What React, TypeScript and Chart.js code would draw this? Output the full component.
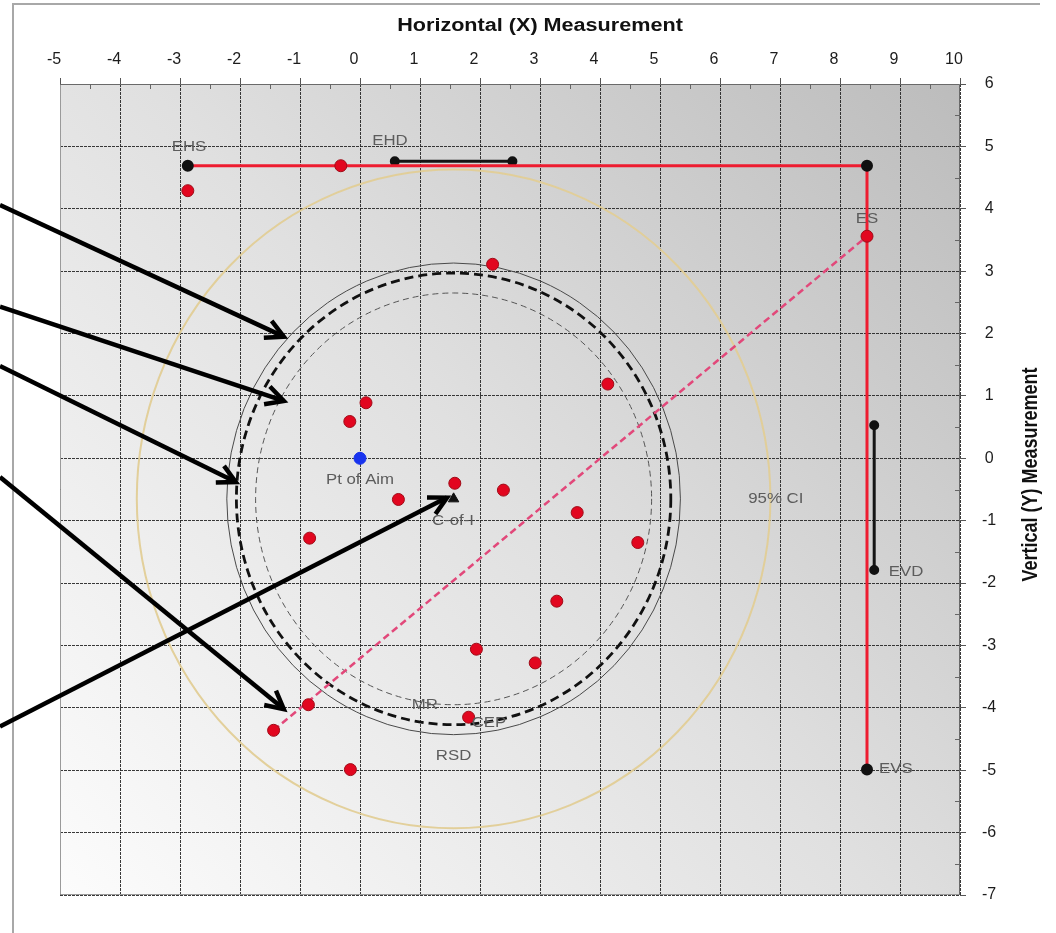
import React, { useEffect, useRef } from "react";
import { Chart, registerables } from "chart.js";

Chart.register(...registerables);

// ---------------- axes ----------------
const X_MIN = -5;
const X_MAX = 10;
const Y_MIN = -7;
const Y_MAX = 6;
const TICK_STEP = 1;
const X_TITLE = "Horizontal (X) Measurement";
const Y_TITLE = "Vertical (Y) Measurement";

// ---------------- shots ----------------
const shotX = [-2.87, -0.32, 2.21, 8.45, 4.13, 0.1, -0.17, 1.58, 2.39, 0.64, 3.62, 4.63, -0.84, 3.28, 1.94, 2.92, -0.86, -1.44, 1.81, -0.16];
const shotY = [4.29, 4.69, 3.11, 3.56, 1.19, 0.89, 0.59, -0.4, -0.51, -0.66, -0.87, -1.35, -1.28, -2.29, -3.06, -3.28, -3.95, -4.36, -4.15, -4.99];

// point of aim and centre of impact
const aimX = [0];
const aimY = [0];
const coiX = [1.56];
const coiY = [-0.65];

// extreme lines
const ehsEvsX = [-2.87, 8.45, 8.45];
const ehsEvsY = [4.69, 4.69, -4.99];
const ehdX = [0.58, 2.54];
const ehdY = [4.76, 4.76];
const evdX = [8.57, 8.57];
const evdY = [0.53, -1.79];
const esX = [-1.44, 8.45];
const esY = [-4.36, 3.56];

// circles around the centre of impact
const circleNames = ["RSD", "CEP", "MR", "95% CI"];
const circleRadii = [3.78, 3.62, 3.3, 5.28];

// text annotations (data coordinates)
const labelTexts = ["EHS", "EHD", "ES", "EVD", "EVS", "Pt of Aim", "C-of-I", "MR", "CEP", "RSD", "95% CI"];
const labelX = [-2.85, 0.5, 8.45, 9.1, 8.93, 0, 1.55, 1.08, 2.15, 1.56, 6.93];
const labelY = [4.99, 5.08, 3.84, -1.83, -4.98, -0.35, -1.0, -3.95, -4.25, -4.78, -0.65];

// pointer arrows (data coordinates, starting left of the plot)
const arrowFromX = [-6, -6, -6, -6, -6];
const arrowFromY = [4.06, 2.43, 1.48, -0.3, -4.3];
const arrowToX = [-1.27, -1.27, -2.07, -1.27, 1.45];
const arrowToY = [1.95, 0.92, -0.38, -4.02, -0.63];

// ---------------- styles ----------------
const FONT = '"Liberation Sans", Arial, sans-serif';
const STRETCH = 1.2;
const circleStyles = [
  { color: "#4a4a4a", width: 1, dash: [] as number[] },
  { color: "#111111", width: 2.8, dash: [9, 5] },
  { color: "#555555", width: 1, dash: [6, 4] },
  { color: "rgba(225,205,150,0.95)", width: 2, dash: [] as number[] },
];

const pts = (xs: number[], ys: number[]) => xs.map((x, i) => ({ x, y: ys[i] }));

function stretchedText(ctx: any, text: string, x: number, y: number, font: string, color: string, rotate = 0) {
  ctx.save();
  ctx.translate(x, y);
  if (rotate) {
    ctx.rotate(rotate);
    ctx.scale(1, STRETCH);
  } else {
    ctx.scale(STRETCH, 1);
  }
  ctx.font = font;
  ctx.fillStyle = color;
  ctx.textAlign = "center";
  ctx.textBaseline = "middle";
  ctx.fillText(text, 0, 0);
  ctx.restore();
}

const decorPlugin = {
  id: "decor",
  beforeDraw(chart: any) {
    const { ctx, chartArea: a } = chart;
    ctx.save();
    ctx.fillStyle = "#ffffff";
    ctx.fillRect(0, 0, chart.width, chart.height);
    // outer frame
    ctx.strokeStyle = "#a8a8a8";
    ctx.lineWidth = 2;
    ctx.beginPath();
    ctx.moveTo(13, chart.height);
    ctx.lineTo(13, 4);
    ctx.lineTo(1040, 4);
    ctx.stroke();
    // plot background gradient
    const g = ctx.createLinearGradient(a.left, a.bottom, a.right, a.top);
    g.addColorStop(0, "#fcfcfc");
    g.addColorStop(0.5, "#e0e0e0");
    g.addColorStop(1, "#bcbcbc");
    ctx.fillStyle = g;
    ctx.fillRect(a.left, a.top, a.right - a.left, a.bottom - a.top);
    ctx.restore();
  },
  beforeDatasetsDraw(chart: any) {
    const { ctx, chartArea: a, scales } = chart;
    const xs = scales.x;
    const ys = scales.y;
    ctx.save();
    // plot frame
    ctx.lineWidth = 1;
    ctx.strokeStyle = "#9a9a9a";
    ctx.beginPath();
    ctx.moveTo(a.left + 0.5, a.top);
    ctx.lineTo(a.left + 0.5, a.bottom - 0.5);
    ctx.lineTo(a.right, a.bottom - 0.5);
    ctx.stroke();
    ctx.strokeStyle = "#6a6a6a";
    ctx.beginPath();
    ctx.moveTo(a.left, a.top + 0.5);
    ctx.lineTo(a.right - 0.5, a.top + 0.5);
    ctx.lineTo(a.right - 0.5, a.bottom);
    ctx.stroke();
    // minor ticks (inward) between major ticks
    ctx.strokeStyle = "#666";
    const xt = xs.ticks;
    for (let i = 0; i < xt.length - 1; i++) {
      const p = Math.round(xs.getPixelForValue((xt[i].value + xt[i + 1].value) / 2)) + 0.5;
      ctx.beginPath();
      ctx.moveTo(p, a.top);
      ctx.lineTo(p, a.top + 5);
      ctx.stroke();
    }
    const yt = ys.ticks;
    for (let i = 0; i < yt.length - 1; i++) {
      const p = Math.round(ys.getPixelForValue((yt[i].value + yt[i + 1].value) / 2)) + 0.5;
      ctx.beginPath();
      ctx.moveTo(a.right - 5, p);
      ctx.lineTo(a.right, p);
      ctx.stroke();
    }
    // circles around centre of impact
    ctx.beginPath();
    ctx.rect(a.left, a.top, a.right - a.left, a.bottom - a.top);
    ctx.clip();
    const cx = xs.getPixelForValue(coiX[0]);
    const cy = ys.getPixelForValue(coiY[0]);
    circleRadii.forEach((r, i) => {
      const rx = xs.getPixelForValue(coiX[0] + r) - cx;
      const ry = cy - ys.getPixelForValue(coiY[0] + r);
      const st = circleStyles[i];
      ctx.strokeStyle = st.color;
      ctx.lineWidth = st.width;
      ctx.setLineDash(st.dash);
      ctx.beginPath();
      ctx.ellipse(cx, cy, rx, ry, 0, 0, Math.PI * 2);
      ctx.stroke();
    });
    ctx.restore();
  },
  afterDatasetsDraw(chart: any) {
    const { ctx, scales } = chart;
    labelTexts.forEach((t, i) => {
      stretchedText(
        ctx,
        t,
        scales.x.getPixelForValue(labelX[i]),
        scales.y.getPixelForValue(labelY[i]),
        `14px ${FONT}`,
        "#5c5c5c"
      );
    });
  },
  afterDraw(chart: any) {
    const { ctx, scales, chartArea: a } = chart;
    // axis titles
    stretchedText(ctx, X_TITLE, 540, 26, `bold 18px ${FONT}`, "#111");
    stretchedText(ctx, Y_TITLE, 1031, (a.top + a.bottom) / 2 - 15, `bold 18px ${FONT}`, "#111", -Math.PI / 2);
    // arrows
    ctx.save();
    ctx.strokeStyle = "#000";
    ctx.lineWidth = 4.5;
    ctx.lineJoin = "miter";
    ctx.lineCap = "butt";
    arrowFromX.forEach((fx, i) => {
      const x1 = scales.x.getPixelForValue(fx);
      const y1 = scales.y.getPixelForValue(arrowFromY[i]);
      const x2 = scales.x.getPixelForValue(arrowToX[i]);
      const y2 = scales.y.getPixelForValue(arrowToY[i]);
      const ang = Math.atan2(y2 - y1, x2 - x1);
      const head = 20;
      const spread = Math.PI / 6.5;
      ctx.beginPath();
      ctx.moveTo(x1, y1);
      ctx.lineTo(x2, y2);
      ctx.stroke();
      ctx.beginPath();
      ctx.moveTo(x2 - head * Math.cos(ang - spread), y2 - head * Math.sin(ang - spread));
      ctx.lineTo(x2, y2);
      ctx.lineTo(x2 - head * Math.cos(ang + spread), y2 - head * Math.sin(ang + spread));
      ctx.stroke();
    });
    ctx.restore();
  },
};

export default function App() {
  const ref = useRef<HTMLCanvasElement | null>(null);

  useEffect(() => {
    if (!ref.current) return;
    const gridCommon = {
      color: "rgba(35,35,35,0.9)",
      lineWidth: 1,
      drawTicks: true,
      tickLength: 6,
      tickColor: "#555",
      tickWidth: 1,
    };
    const chart = new Chart(ref.current, {
      type: "scatter",
      data: {
        datasets: [
          {
            label: "Shots",
            data: pts(shotX, shotY),
            pointRadius: 6,
            pointBackgroundColor: "#e2061f",
            pointBorderColor: "#a00c18",
            pointBorderWidth: 1,
            showLine: false,
          },
          {
            label: "Pt of Aim",
            data: pts(aimX, aimY),
            pointRadius: 6,
            pointBackgroundColor: "#1833ee",
            pointBorderColor: "#1833ee",
            showLine: false,
          },
          {
            label: "C-of-I",
            data: pts(coiX, coiY),
            pointStyle: "triangle",
            pointRadius: 6,
            pointBackgroundColor: "#111",
            pointBorderColor: "#111",
            showLine: false,
          },
          {
            label: "EHS-EVS",
            data: pts(ehsEvsX, ehsEvsY),
            showLine: true,
            borderColor: "#ee1c30",
            borderWidth: 3,
            pointRadius: 4.5,
            pointBackgroundColor: "#111",
            pointBorderColor: "#111",
          },
          {
            label: "EHD",
            data: pts(ehdX, ehdY),
            showLine: true,
            borderColor: "#151515",
            borderWidth: 3,
            pointRadius: 3.5,
            pointBackgroundColor: "#111",
            pointBorderColor: "#111",
          },
          {
            label: "EVD",
            data: pts(evdX, evdY),
            showLine: true,
            borderColor: "#151515",
            borderWidth: 3,
            pointRadius: 3.5,
            pointBackgroundColor: "#111",
            pointBorderColor: "#111",
          },
          {
            label: "ES",
            data: pts(esX, esY),
            showLine: true,
            borderColor: "#e2487a",
            borderWidth: 2.5,
            borderDash: [7, 4],
            pointRadius: 0,
          },
        ],
      },
      options: {
        responsive: false,
        animation: false,
        devicePixelRatio: 1,
        events: [],
        layout: { padding: { left: 60, top: 0, right: 0, bottom: 38 } },
        plugins: {
          legend: { display: false },
          tooltip: { enabled: false },
        },
        scales: {
          x: {
            type: "linear",
            position: "top",
            min: X_MIN,
            max: X_MAX,
            ticks: {
              stepSize: TICK_STEP,
              autoSkip: false,
              maxRotation: 0,
              color: "#1c1c1c",
              font: { family: FONT, size: 16 },
              padding: 9,
              labelOffset: -6,
            },
            grid: gridCommon,
            border: { display: false, dash: [3, 1] },
            afterFit: (s: any) => {
              s.height = 84;
            },
          },
          y: {
            type: "linear",
            position: "right",
            min: Y_MIN,
            max: Y_MAX,
            ticks: {
              stepSize: TICK_STEP,
              autoSkip: false,
              color: "#1c1c1c",
              font: { family: FONT, size: 16 },
              padding: 16,
              crossAlign: "center",
            },
            grid: gridCommon,
            border: { display: false, dash: [3, 1] },
            afterFit: (s: any) => {
              s.width = 96;
            },
          },
        },
      } as any,
      plugins: [decorPlugin],
    });
    return () => chart.destroy();
  }, []);

  return (
    <div style={{ position: "absolute", left: 0, top: 0, width: 1056, height: 933, background: "#fff" }}>
      <canvas ref={ref} width={1056} height={933} style={{ display: "block" }} />
    </div>
  );
}
